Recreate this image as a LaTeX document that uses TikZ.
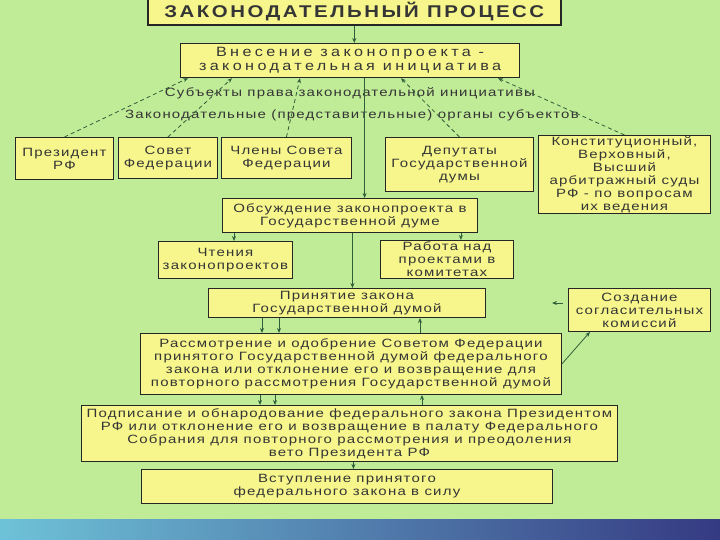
\documentclass[tikz,border=0pt]{standalone}
\usepackage{fontspec}
\setmainfont{Liberation Sans}
\newfontfamily\fT[LetterSpace=15,FakeStretch=1.2]{Liberation Sans}
\newfontfamily\fV[LetterSpace=25,FakeStretch=1.2]{Liberation Sans}
\newfontfamily\fB[LetterSpace=10,FakeStretch=1.25]{Liberation Sans}
\usetikzlibrary{arrows.meta,calc}
\definecolor{bg}{HTML}{C1EC97}
\definecolor{boxfill}{HTML}{F6F68C}
\definecolor{arrowc}{HTML}{2F5F3A}
\definecolor{txt}{HTML}{353535}
\definecolor{bandA}{HTML}{6EC2D8}
\definecolor{bandB}{HTML}{AAC8D6}
\definecolor{bandC}{HTML}{353A82}
\begin{document}
\begin{tikzpicture}[x=1pt,y=-1pt,
  box/.style={draw=black!85, line width=0.9pt, fill=boxfill, inner sep=0pt, align=center,
    text=txt, anchor=north west, font=\fB\fontsize{12}{13}\selectfont},
  plain/.style={inner sep=0pt, text=txt, font=\fB\fontsize{12}{13}\selectfont},
  arr/.style={draw=arrowc, line width=0.8pt, -{Stealth[length=5pt,width=4pt]}},
  dsh/.style={arr, dash pattern=on 4pt off 3pt}]
\useasboundingbox (0,0) rectangle (720,540);
\fill[bg] (0,0) rectangle (720,540);
\shade[left color=bandA, middle color=bandB, right color=bandC] (0,519) rectangle (720,540);

\node[box, minimum width=413pt, minimum height=26pt, line width=1.6pt,
  font=\fT\bfseries\fontsize{17}{18}\selectfont] (title) at (147,-2) {ЗАКОНОДАТЕЛЬНЫЙ ПРОЦЕСС};
\node[box, minimum width=339pt, minimum height=34pt, line width=1.2pt,
  font=\fV\fontsize{13.5}{14}\selectfont] (vnes) at (180,43) {Внесение законопроекта -\\законодательная инициатива};

\node[plain] (subj) at (350,93) {Субъекты права законодательной инициативы};
\node[plain] (zak) at (352,115) {Законодательные (представительные) органы субъектов};

\node[box, minimum width=98pt, minimum height=42pt] (pres) at (15,137) {Президент\\РФ};
\node[box, minimum width=99pt, minimum height=41pt] (sovet) at (118,137) {Совет\\Федерации};
\node[box, minimum width=130pt, minimum height=41pt] (chlen) at (221,137) {Члены Совета\\Федерации};
\node[box, minimum width=148pt, minimum height=54pt] (deput) at (385,137) {Депутаты\\Государственной\\думы};
\node[box, minimum width=172pt, minimum height=78pt] (konst) at (538,135) {Конституционный,\\Верховный,\\Высший\\арбитражный суды\\РФ - по вопросам\\их ведения};

\node[box, minimum width=255pt, minimum height=34pt] (obs) at (222,198) {Обсуждение законопроекта в\\Государственной думе};
\node[box, minimum width=134pt, minimum height=37pt] (chten) at (158,241) {Чтения\\законопроектов};
\node[box, minimum width=133pt, minimum height=38pt] (rab) at (380,240) {Работа над\\проектами в\\комитетах};
\node[box, minimum width=277pt, minimum height=29pt] (prin) at (208,288) {Принятие закона\\Государственной думой};
\node[box, minimum width=142pt, minimum height=43pt] (sozd) at (568,288) {Создание\\согласительных\\комиссий};
\node[box, minimum width=421pt, minimum height=61pt] (rassm) at (140,333) {Рассмотрение и одобрение Советом Федерации\\принятого Государственной думой федерального\\закона или отклонение его и возвращение для\\повторного рассмотрения Государственной думой};
\node[box, minimum width=536pt, minimum height=56pt] (podp) at (81,405) {Подписание и обнародование федерального закона Президентом\\РФ или отклонение его и возвращение в палату Федерального\\Собрания для повторного рассмотрения и преодоления\\вето Президента РФ};
\node[box, minimum width=411pt, minimum height=34pt] (vstup) at (141,469) {Вступление принятого\\федерального закона в силу};

% arrows
\draw[arr] (title.south) -- (title.south |- vnes.north);
\draw[arr] ([xshift=14.5pt]vnes.south) -- ([xshift=14.5pt]vnes.south |- obs.north);
\draw[dsh] (pres.north) -- ([xshift=8pt]vnes.south west);
\draw[dsh] (sovet.north) -- ([xshift=52pt]vnes.south west);
\draw[dsh] (chlen.north) -- ([xshift=120pt]vnes.south west);
\draw[dsh] (deput.north) -- ([xshift=221pt]vnes.south west);
\draw[dsh] (konst.north) -- ([xshift=318pt]vnes.south west);

\draw[arr] ([xshift=12pt]obs.south west) -- ([xshift=12pt]obs.south west |- chten.north);
\draw[arr] ([xshift=-17pt]obs.south east) -- ([xshift=-17pt]obs.south east |- rab.north);
\draw[arr] ([xshift=2.5pt]obs.south) -- ([xshift=2.5pt]obs.south |- prin.north);

\draw[arr] ([xshift=54pt]prin.south west) -- ([xshift=54pt]prin.south west |- rassm.north);
\draw[arr] ([xshift=71pt]prin.south west) -- ([xshift=71pt]prin.south west |- rassm.north);
\draw[arr] ([xshift=212pt]prin.south west |- rassm.north) -- ([xshift=212pt]prin.south west);

\draw[arr] ([xshift=120pt]rassm.south west) -- ([xshift=120pt]rassm.south west |- podp.north);
\draw[arr] ([xshift=135pt]rassm.south west) -- ([xshift=135pt]rassm.south west |- podp.north);
\draw[arr] ([xshift=282pt]rassm.south west |- podp.north) -- ([xshift=282pt]rassm.south west);

\draw[arr] ([xshift=4pt]podp.south) -- ([xshift=4pt]podp.south |- vstup.north);

\coordinate (stubA) at (563,303);
\coordinate (stubB) at (552,303);
\draw[arr] (stubA) -- (stubB);
\draw[arr] (rassm.east) -- ([xshift=22pt]sozd.south west);
\end{tikzpicture}
\end{document}
